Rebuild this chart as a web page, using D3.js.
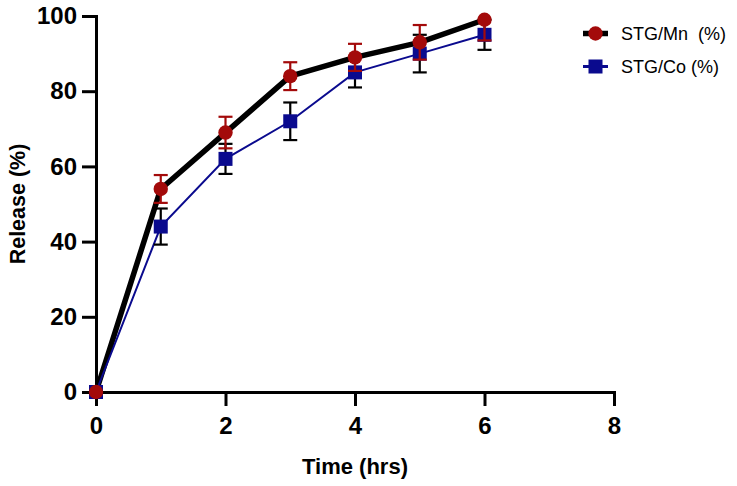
<!DOCTYPE html>
<html>
<head>
<meta charset="utf-8">
<script src="https://cdn.jsdelivr.net/npm/d3@7"></script>
<style>
  html, body { margin: 0; padding: 0; background: #fff; }
  svg { display: block; }
</style>
</head>
<body>
<svg id="chart" width="737" height="486"></svg>
<script>
// ---- data ----
const time = [0, 1, 2, 3, 4, 5, 6];
const mnValues = [0, 54, 69, 84, 89, 93, 99];
const mnErrors = [0, 3.7, 4.2, 3.7, 3.6, 4.6, 5.5];
const coValues = [0, 44, 62, 72, 85, 90, 95];
const coErrors = [0, 4.8, 4.0, 5.0, 4.0, 5.0, 4.0];
const xTicks = [0, 2, 4, 6, 8];
const yTicks = [0, 20, 40, 60, 80, 100];
const seriesNames = ["STG/Mn  (%)", "STG/Co (%)"];
const xTitle = "Time (hrs)";
const yTitle = "Release (%)";

// ---- styles ----
const RED = "#a30a0a";
const BLUE = "#0a0a8e";
const FONT = "'Liberation Sans', Arial, sans-serif";

const svg = d3.select("#chart");
const x = d3.scaleLinear().domain([0, 8]).range([96, 614]);
const y = d3.scaleLinear().domain([0, 100]).range([392, 16]);

// axes
const xAxis = svg.append("g")
  .attr("transform", `translate(0,${y(0)})`)
  .call(d3.axisBottom(x).tickValues(xTicks).tickSize(14).tickSizeOuter(0).tickPadding(11));
const yAxis = svg.append("g")
  .attr("transform", `translate(${x(0)},0)`)
  .call(d3.axisLeft(y).tickValues(yTicks).tickSize(14).tickSizeOuter(0).tickPadding(5));

[xAxis, yAxis].forEach(g => {
  g.select(".domain").attr("stroke", "#000").attr("stroke-width", 3).attr("stroke-linecap", "square");
  g.selectAll(".tick line").attr("stroke", "#000").attr("stroke-width", 3);
  g.selectAll(".tick text")
    .attr("fill", "#000")
    .style("font-family", FONT)
    .style("font-size", "24px")
    .style("font-weight", "bold");
});

// titles
svg.append("text")
  .attr("x", (x(0) + x(8)) / 2)
  .attr("y", 474)
  .attr("text-anchor", "middle")
  .style("font-family", FONT).style("font-size", "22px").style("font-weight", "bold")
  .text(xTitle);
svg.append("text")
  .attr("transform", `translate(25,${(y(0) + y(100)) / 2}) rotate(-90)`)
  .attr("text-anchor", "middle")
  .style("font-family", FONT).style("font-size", "21.5px").style("font-weight", "bold")
  .text(yTitle);

const mnData = time.map((t, i) => ({ t, v: mnValues[i], e: mnErrors[i] }));
const coData = time.map((t, i) => ({ t, v: coValues[i], e: coErrors[i] }));

const line = d3.line().x(d => x(d.t)).y(d => y(d.v));

// lines
svg.append("path").datum(mnData)
  .attr("d", line).attr("fill", "none").attr("stroke", "#000").attr("stroke-width", 5.5)
  .attr("stroke-linejoin", "round");
svg.append("path").datum(coData)
  .attr("d", line).attr("fill", "none").attr("stroke", BLUE).attr("stroke-width", 2);

function errorBars(data, color) {
  const g = svg.append("g").attr("stroke", color).attr("stroke-width", 2.2);
  data.filter(d => d.e > 0).forEach(d => {
    const top = Math.min(100, d.v + d.e);
    const bot = d.v - d.e;
    g.append("line").attr("x1", x(d.t)).attr("x2", x(d.t)).attr("y1", y(top)).attr("y2", y(bot));
    if (d.v + d.e <= 100) {
      g.append("line").attr("x1", x(d.t) - 7).attr("x2", x(d.t) + 7).attr("y1", y(top)).attr("y2", y(top));
    }
    g.append("line").attr("x1", x(d.t) - 7).attr("x2", x(d.t) + 7).attr("y1", y(bot)).attr("y2", y(bot));
  });
}

// Co error bars & squares
errorBars(coData, "#000");
svg.append("g").selectAll("rect").data(coData).join("rect")
  .attr("x", d => x(d.t) - 7).attr("y", d => y(d.v) - 7)
  .attr("width", 14).attr("height", 14).attr("fill", BLUE);

// Mn error bars & circles
errorBars(mnData, RED);
svg.append("g").selectAll("circle").data(mnData).join("circle")
  .attr("cx", d => x(d.t)).attr("cy", d => y(d.v)).attr("r", 7.2).attr("fill", RED);

// legend
const leg = svg.append("g");
const legRows = [
  { name: seriesNames[0], cy: 33.5, kind: "mn" },
  { name: seriesNames[1], cy: 66.5, kind: "co" }
];
legRows.forEach(r => {
  if (r.kind === "mn") {
    leg.append("line").attr("x1", 583).attr("x2", 608).attr("y1", r.cy).attr("y2", r.cy)
      .attr("stroke", "#000").attr("stroke-width", 5.5);
    leg.append("circle").attr("cx", 595.5).attr("cy", r.cy).attr("r", 7.2).attr("fill", RED);
  } else {
    leg.append("line").attr("x1", 583).attr("x2", 608).attr("y1", r.cy).attr("y2", r.cy)
      .attr("stroke", BLUE).attr("stroke-width", 3);
    leg.append("rect").attr("x", 588.5).attr("y", r.cy - 7).attr("width", 14).attr("height", 14).attr("fill", BLUE);
  }
  leg.append("text").attr("x", 621).attr("y", r.cy + 6.5)
    .style("font-family", FONT).style("font-size", "18px").style("white-space", "pre")
    .attr("xml:space", "preserve")
    .text(r.name);
});
</script>
</body>
</html>
